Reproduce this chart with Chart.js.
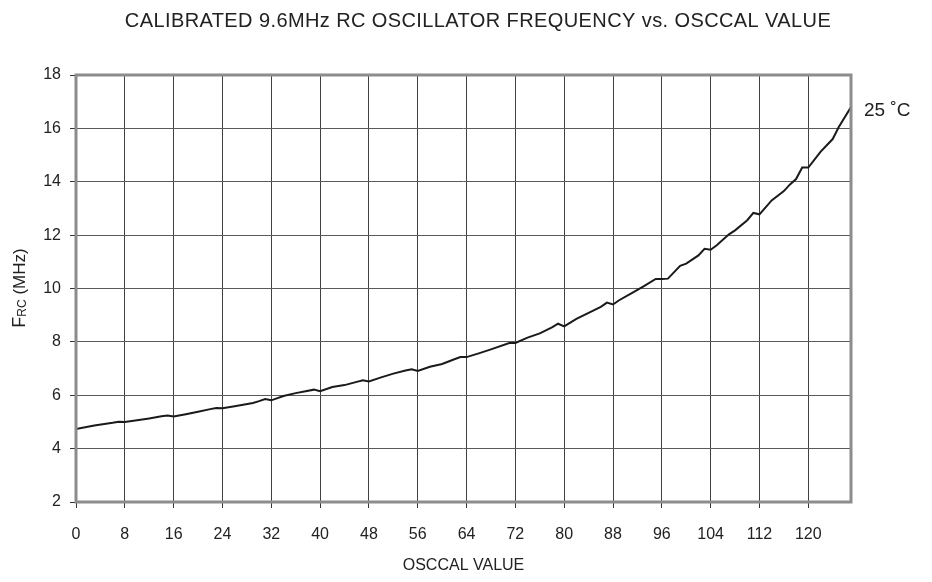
<!DOCTYPE html>
<html>
<head>
<meta charset="utf-8">
<script src="https://cdn.jsdelivr.net/npm/chart.js@4.4.0/dist/chart.umd.min.js"></script>
<style>
  html, body { margin: 0; padding: 0; background: #fff; }
  #wrap { width: 932px; height: 582px; }
</style>
</head>
<body>
<div id="wrap"><canvas id="chart" width="932" height="582"></canvas></div>
<script>
// ==========================
// Data
// ==========================
const chartTitle = "CALIBRATED 9.6MHz RC OSCILLATOR FREQUENCY vs. OSCCAL VALUE";
const xTitle = "OSCCAL VALUE";
const seriesLabel = "25 ˚C";

const oscValues = [0, 3, 6, 7, 8, 10, 12, 14, 15, 16, 18, 20, 22, 23, 24, 26, 29, 30, 31, 32,
    34, 36, 39, 40, 42, 44, 46, 47, 48, 50, 52, 54, 55, 56, 58, 60, 62, 63, 64, 66, 68, 71, 72,
    74, 76, 78, 79, 80, 82, 84, 86, 87, 88, 89, 91, 93, 95, 96, 97, 99, 100, 102, 103, 104, 105,
    107, 108, 110, 111, 112, 114, 116, 117, 118, 119, 120, 122, 124, 125, 127];
const freqValues = [4.73, 4.87, 4.97, 5.01, 5.00, 5.06, 5.13, 5.21, 5.24, 5.20, 5.29, 5.38, 5.48, 5.52, 5.51, 5.59, 5.71, 5.78, 5.86, 5.81,
    5.97, 6.08, 6.21, 6.15, 6.31, 6.38, 6.50, 6.56, 6.52, 6.67, 6.81, 6.93, 6.97, 6.91, 7.07, 7.17, 7.35, 7.43, 7.43, 7.57, 7.72, 7.96, 7.96,
    8.16, 8.32, 8.54, 8.68, 8.58, 8.86, 9.09, 9.31, 9.47, 9.40, 9.56, 9.82, 10.08, 10.36, 10.36, 10.37, 10.85, 10.93, 11.24, 11.49, 11.45, 11.62,
    12.03, 12.18, 12.56, 12.83, 12.78, 13.30, 13.65, 13.90, 14.10, 14.53, 14.53, 15.12, 15.60, 16.05, 16.80];

const xTicks = [0, 8, 16, 24, 32, 40, 48, 56, 64, 72, 80, 88, 96, 104, 112, 120];
const yTicks = [2, 4, 6, 8, 10, 12, 14, 16, 18];

const FONT = "'Liberation Sans', Arial, sans-serif";
const TEXT = "#222";

// ==========================
// Extra drawing: frame, titles, series label
// ==========================
const decorPlugin = {
    id: "decor",
    afterDatasetsDraw(chart) {
        const { ctx, chartArea: a, scales } = chart;
        ctx.save();
        // gray frame round the plot
        ctx.strokeStyle = "#8c8c8c";
        ctx.lineWidth = 3;
        ctx.strokeRect(a.left, a.top, a.right - a.left, a.bottom - a.top);

        ctx.fillStyle = TEXT;
        ctx.textBaseline = "middle";

        // chart title
        ctx.font = "20px " + FONT;
        ctx.textAlign = "center";
        ctx.letterSpacing = "0.4px";
        ctx.fillText(chartTitle, 478, 21);
        ctx.letterSpacing = "0px";

        // x axis title
        ctx.font = "16px " + FONT;
        ctx.fillText(xTitle, (a.left + a.right) / 2, 566);

        // y axis title with subscript
        ctx.translate(20, 288);
        ctx.rotate(-Math.PI / 2);
        const parts = [["F", 18, 0], ["RC", 12, 3], [" (MHz)", 17, 0]];
        let total = 0;
        parts.forEach(p => { ctx.font = p[1] + "px " + FONT; total += ctx.measureText(p[0]).width; });
        let x = -total / 2;
        ctx.textAlign = "left";
        parts.forEach(p => {
            ctx.font = p[1] + "px " + FONT;
            ctx.fillText(p[0], x, p[2]);
            x += ctx.measureText(p[0]).width;
        });
        ctx.restore();

        // series label next to the line end
        const last = oscValues.length - 1;
        ctx.save();
        ctx.fillStyle = TEXT;
        ctx.font = "19px " + FONT;
        ctx.textBaseline = "middle";
        ctx.textAlign = "left";
        ctx.fillText(seriesLabel, scales.x.getPixelForValue(oscValues[last]) + 13,
            scales.y.getPixelForValue(freqValues[last]) + 4);
        ctx.restore();
    }
};

// ==========================
// Chart
// ==========================
const ctx = document.getElementById("chart").getContext("2d");
const chart = new Chart(ctx, {
    type: "line",
    data: {
        datasets: [{
            label: seriesLabel,
            data: oscValues.map((v, i) => ({ x: v, y: freqValues[i] })),
            borderColor: "#1a1a1a",
            borderWidth: 2,
            pointRadius: 0,
            tension: 0,
            fill: false
        }]
    },
    options: {
        responsive: false,
        animation: false,
        layout: { padding: { top: 75, right: 81, left: 0, bottom: 0 } },
        plugins: {
            legend: { display: false },
            title: { display: false },
            tooltip: { enabled: false }
        },
        scales: {
            x: {
                type: "linear",
                min: 0,
                max: 127,
                afterBuildTicks: s => { s.ticks = xTicks.map(v => ({ value: v })); },
                afterFit: s => { s.height = 80; },
                grid: { color: "#404040", lineWidth: 1, tickLength: 6, tickColor: "#333" },
                border: { display: false },
                ticks: { color: TEXT, font: { family: FONT, size: 16 }, padding: 17, maxRotation: 0 }
            },
            y: {
                min: 2,
                max: 18,
                afterBuildTicks: s => { s.ticks = yTicks.map(v => ({ value: v })); },
                afterFit: s => { s.width = 76; },
                grid: { color: "#5a5a5a", lineWidth: 1, tickLength: 6, tickColor: "#333" },
                border: { display: false },
                ticks: { color: TEXT, font: { family: FONT, size: 16 }, padding: 9 }
            }
        }
    },
    plugins: [decorPlugin]
});
</script>
</body>
</html>
